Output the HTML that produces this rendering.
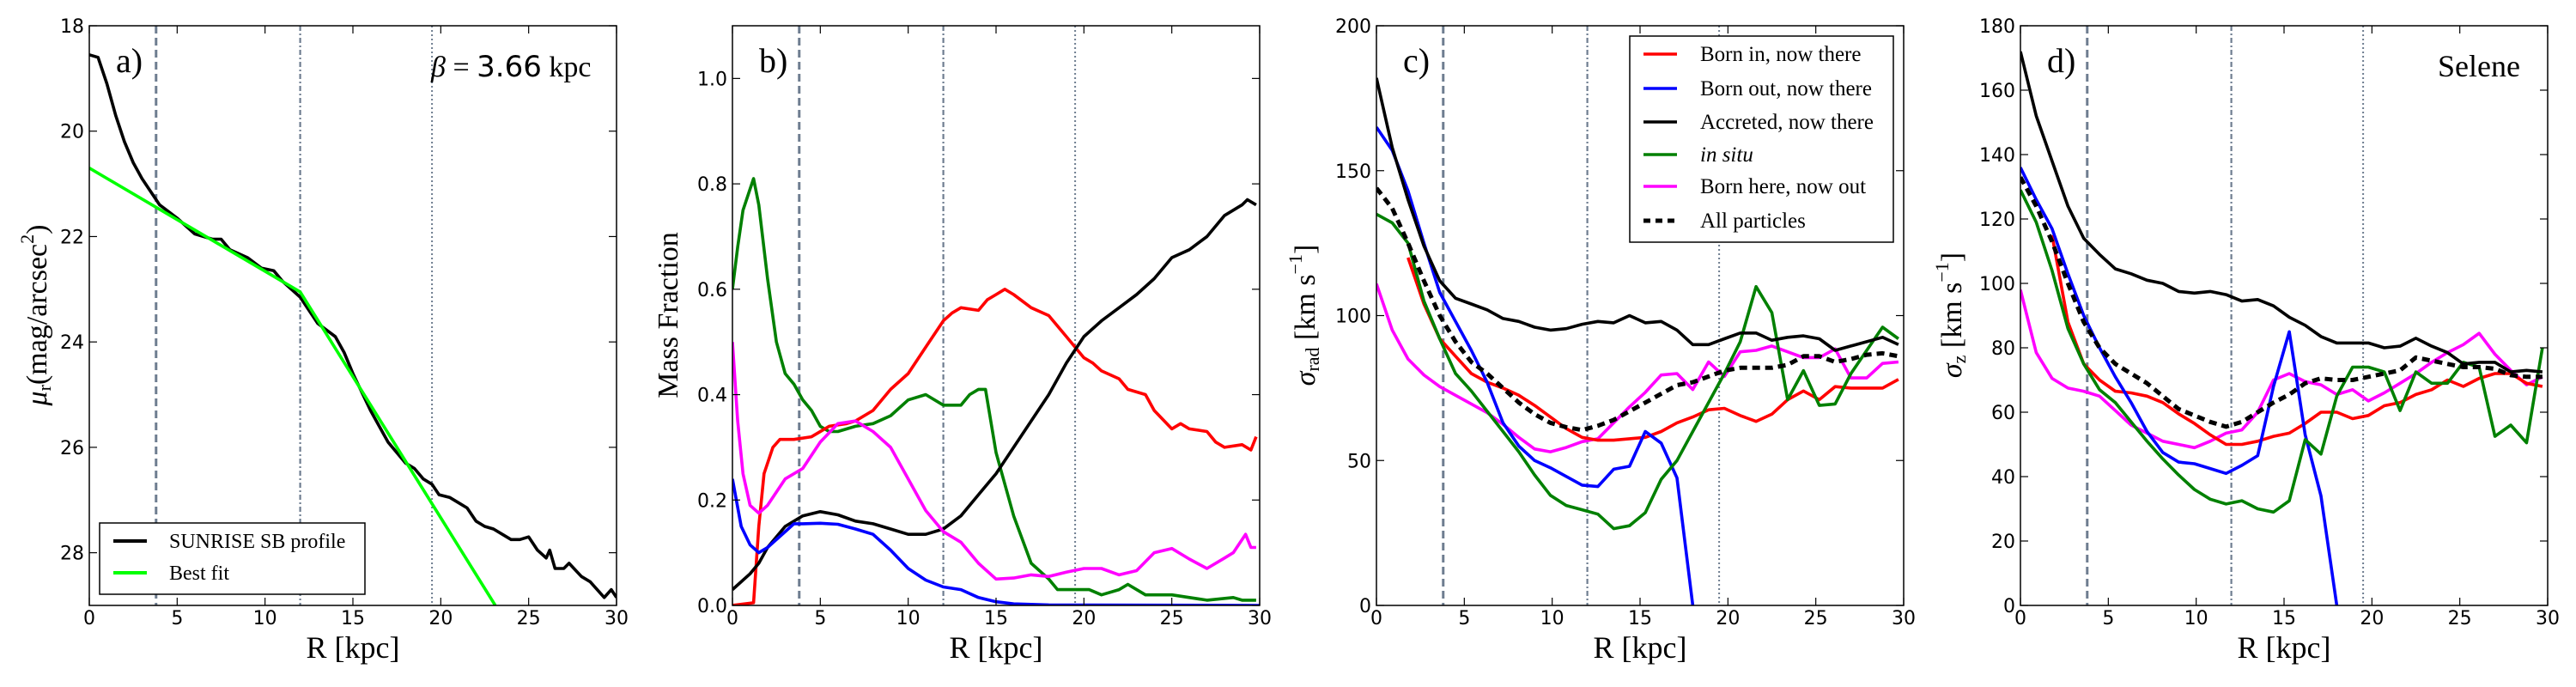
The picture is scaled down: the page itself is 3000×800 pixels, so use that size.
<!DOCTYPE html>
<html><head><meta charset="utf-8">
<style>
html,body{margin:0;padding:0;background:#fff;}
svg{display:block;}
.tk{font-family:"DejaVu Sans","Liberation Sans",sans-serif;font-size:22px;fill:#000;}
.sr{font-family:"Liberation Serif","DejaVu Serif",serif;fill:#000;}
</style></head>
<body>
<svg id="fig" width="3000" height="800" viewBox="0 0 3000 800" xmlns="http://www.w3.org/2000/svg"></svg>
<script>
// ---------- Panel a data ----------
const aBlackR = [0,0.5,1,1.5,2,2.5,3,3.5,4,5,6,7,7.5,8,9,9.8,10.5,11,12,13,14,14.5,15,16,17,18,18.5,19,19.5,19.9,20.5,21,21.5,22,22.5,23,23.5,24,24.5,25,25.5,26,26.2,26.5,27,27.3,28,28.5,29.3,29.7,30];
const aBlackMu = [18.55,18.6,19.1,19.7,20.2,20.6,20.9,21.15,21.4,21.65,21.95,22.05,22.05,22.25,22.4,22.6,22.65,22.85,23.15,23.65,23.9,24.2,24.6,25.3,25.9,26.3,26.4,26.6,26.7,26.9,26.95,27.05,27.15,27.4,27.5,27.55,27.65,27.75,27.75,27.7,27.95,28.1,27.95,28.3,28.3,28.2,28.45,28.55,28.85,28.7,28.85];
const aFitR = [0,12,23.1];
const aFitMu = [20.7,23.05,29.0];
const aYTicks = [18,20,22,24,26,28];
// ---------- Panel b data ----------
const bGreenR = [0,0.3,0.6,1,1.2,1.5,2,2.5,3,3.5,4,4.5,5,5.5,6,7,8,9,10,11,12,13,13.5,14,14.4,15,16,17,18,18.5,19.5,20.3,21,22,22.5,23,23.5,25,27,28.5,29,29.8];
const bGreen = [0.6,0.68,0.75,0.79,0.81,0.76,0.62,0.5,0.44,0.42,0.39,0.37,0.34,0.33,0.33,0.34,0.345,0.36,0.39,0.40,0.38,0.38,0.40,0.41,0.41,0.29,0.17,0.08,0.05,0.03,0.03,0.03,0.02,0.03,0.04,0.03,0.02,0.02,0.01,0.015,0.01,0.01];
const bRedR = [0,1.2,1.5,1.8,2.3,2.7,3.5,4.5,5.5,6.5,7,8,9,10,11,12,12.5,13,14,14.5,15,15.5,16,17,18,19,20,20.5,21,22,22.5,23.5,24,25,25.5,26,27,27.5,28,29,29.5,29.8];
const bRed = [0,0.005,0.15,0.25,0.3,0.315,0.315,0.32,0.34,0.345,0.35,0.37,0.41,0.44,0.49,0.54,0.555,0.565,0.56,0.58,0.59,0.6,0.59,0.565,0.55,0.51,0.47,0.46,0.445,0.43,0.41,0.4,0.37,0.335,0.345,0.335,0.33,0.31,0.3,0.305,0.295,0.32];
const bBlackR = [0,1,1.5,2,3,4,5,6,7,8,9,10,11,12,13,14,15,16,17,18,19,20,21,22,23,24,25,26,27,28,29,29.3,29.8];
const bBlack = [0.03,0.06,0.08,0.11,0.15,0.17,0.178,0.172,0.16,0.155,0.145,0.135,0.135,0.145,0.17,0.21,0.25,0.3,0.35,0.4,0.46,0.51,0.54,0.565,0.59,0.62,0.66,0.675,0.7,0.74,0.76,0.77,0.76];
const bBlueR = [0,0.5,1,1.5,2,3,3.5,4,5,6,7,8,9,10,11,12,13,14,15,16,18,30];
const bBlue = [0.24,0.15,0.115,0.1,0.11,0.14,0.155,0.155,0.156,0.154,0.145,0.135,0.105,0.07,0.048,0.035,0.03,0.015,0.007,0.003,0.001,0];
const bMagR = [0,0.3,0.6,1,1.5,2,3,4,5,6,7,8,9,10,11,12,13,14,15,16,17,18,19,20,21,22,23,24,25,26,27,28,28.5,29.2,29.5,29.8];
const bMag = [0.5,0.35,0.25,0.19,0.175,0.19,0.24,0.26,0.31,0.345,0.35,0.33,0.3,0.24,0.18,0.14,0.12,0.08,0.05,0.052,0.058,0.055,0.063,0.07,0.07,0.058,0.066,0.1,0.108,0.088,0.07,0.09,0.1,0.135,0.11,0.11];
const bYTicks = [0,0.2,0.4,0.6,0.8,1.0];
const bYLabels = ["0.0","0.2","0.4","0.6","0.8","1.0"];
// ---------- Panel c & d shared radius grid ----------
const gridR = [0,0.9,1.8,2.7,3.6,4.5,5.4,6.3,7.2,8.1,9,9.9,10.8,11.7,12.6,13.5,14.4,15.3,16.2,17.1,18,18.9,19.8,20.7,21.6,22.5,23.4,24.3,25.2,26.1,27,27.9,28.8,29.7];
const blueR = [0,0.9,1.8,2.7,3.6,4.5,5.4,6.3,7.2,8.1,9,9.9,10.8,11.7,12.6,13.5,14.4,15.3,16.2,17.1,18];
const redR = gridR.slice(2);
// Panel c
const cBlack = [182,158,140,124,112,106,104,102,99,98,96,95,95.5,97,98,97.5,100,97.5,98,95,90,90,92,94,94,91.5,92.5,93,92,88,89.5,91,92.5,90];
const cBlue = [165,157,143,125,108,98,88,77,63,55,50,47.5,44.5,41.5,41,47,48,60,56,44,0];
const cGreen = [135,132,125,105,92,80,74,67,60,53,45,38,34.5,33,31.5,26.5,27.5,32,43.5,50,60,70,80,91,110,101,71,81,69,69.5,80,88,96,92];
const cRed = [120,104,92,86,80,77,75,72.5,69,65,61,58,57,57,57.5,58,60,63,65,67.5,68,65.5,63.5,66,71,74,71,75.5,75,75,75,78];
const cMag = [111,95,85,79.5,75.5,72.5,69.5,66.5,62.5,58,54,53,54.5,56.5,57.5,63,68.5,73.5,79.5,80,74.5,84,79,87.5,88,89.5,87.5,85.5,85.5,88.5,78.5,78.5,83.5,84];
const cAll = [144,137,125,112,100,91,84,80,75,70,66,63,61.5,60.5,62,64,67,70,73,76,77,79,81,82,82,82,83,86,86,84,85,86.5,87,86];
const cYTicks = [0,50,100,150,200];
// Panel d
const dBlack = [172,152,138,124,114,109,104.5,103,101,100,97.5,97,97.5,96.5,94.5,95,93,89.5,87,83.5,81.5,81.5,81.5,80,80.5,83,80.5,78.5,75,75.5,75.5,72.5,73,72.5];
const dBlue = [136,126,117,103,90,80,71,63,54,47.5,44.5,44,42.5,41,43.5,46.5,68,85,53,34,0];
const dGreen = [129,119,104,86,75,67,63,57,51,45.5,40.5,36,33,31.5,32.5,30,29,32.5,51.5,47,65,74,74,72.5,60.5,72.5,69,69,75.5,74,52.5,56,50.5,80];
const dRed = [115,88,75,70,66.5,66,65,63,59.5,56.5,53,50,50,51,52.5,53.5,56.5,60,60,58,59,62,63,65.5,67,70,68,70.5,72,72,69,68];
const dMag = [98,78.5,70.5,67.5,66.5,65,60.5,56,53.5,51,50,49,51,53.5,54.5,60,70,72,69.5,68.5,65.5,67,63.5,66,69,72,75.5,78.5,81,84.5,78,73,68.5,71];
const dAll = [133,124,113,100,88,80,75,72,69,65,61,59,57,55.5,57,60,63,65.5,69,70.5,70,70,71,72,73,77,76,75,74,74,73.5,71.5,71,71];
const dYTicks = [0,20,40,60,80,100,120,140,160,180];
const xTicks = [0,5,10,15,20,25,30];
const vLinesR = [3.8,12.0,19.5];

const NS = "http://www.w3.org/2000/svg";
const fig = document.getElementById('fig');
function mk(tag, attrs, parent){
  const e = document.createElementNS(NS, tag);
  for (const k in attrs) e.setAttribute(k, attrs[k]);
  (parent||fig).appendChild(e);
  return e;
}
const TOP = 30, BOT = 705, W = 614, LW = 3.6;
function makePanel(name, left, ymin, ymax, invert){
  const g = mk('g', {});
  
  
  const xs = r => left + r / 30 * W;
  const ys = v => invert ? TOP + (v - ymin) / (ymax - ymin) * (BOT - TOP)
                         : BOT - (v - ymin) / (ymax - ymin) * (BOT - TOP);
  return {g, xs, ys, left};
}
function line(p, rs, vs, color, width, dash, name){
  let d = '';
  for (let i = 0; i < rs.length; i++) d += (i ? 'L' : 'M') + p.xs(rs[i]).toFixed(1) + ',' + p.ys(vs[i]).toFixed(1);
  const e = mk('path', {d: d, fill: 'none', stroke: color, 'stroke-width': width, 'stroke-linejoin': 'round', 'clip-path': 'url(#clip-' + p.id + ')'}, p.g);
  if (dash) e.setAttribute('stroke-dasharray', dash);
  
  
}
function axes(p){
  const id = p.id;
  const defs = mk('defs', {}, p.g);
  const cp = mk('clipPath', {id: 'clip-' + id}, defs);
  mk('rect', {x: p.left, y: TOP, width: W, height: BOT - TOP}, cp);
  const vstyles = [['3.0','9,5'],['2.2','6,3,2,3'],['2.0','2,3']];
  const vnames = ['scale-length-line','break-radius-line','outer-radius-line'];
  vLinesR.forEach((r, i) => {
    const e = mk('line', {x1: p.xs(r), x2: p.xs(r), y1: TOP, y2: BOT, stroke: '#6e7d90', 'stroke-width': vstyles[i][0], 'stroke-dasharray': vstyles[i][1]}, p.g);
    
    
  });
}
function frame(p, yTicks, yLabels){
  const f = mk('rect', {x: p.left, y: TOP, width: W, height: BOT - TOP, fill: 'none', stroke: '#000', 'stroke-width': 1.5}, p.g);
  
  
  xTicks.forEach(t => {
    const x = p.xs(t);
    mk('line', {x1: x, x2: x, y1: BOT, y2: BOT - 9, stroke: '#000', 'stroke-width': 1.2}, p.g);
    mk('line', {x1: x, x2: x, y1: TOP, y2: TOP + 9, stroke: '#000', 'stroke-width': 1.2}, p.g);
    const tx = mk('text', {x: x, y: 727, 'text-anchor': 'middle', class: 'tk'}, p.g);
    tx.textContent = t;
    
    
  });
  yTicks.forEach((t, i) => {
    const y = p.ys(t);
    mk('line', {x1: p.left, x2: p.left + 9, y1: y, y2: y, stroke: '#000', 'stroke-width': 1.2}, p.g);
    mk('line', {x1: p.left + W, x2: p.left + W - 9, y1: y, y2: y, stroke: '#000', 'stroke-width': 1.2}, p.g);
    const tx = mk('text', {x: p.left - 6, y: y + 8, 'text-anchor': 'end', class: 'tk'}, p.g);
    tx.textContent = yLabels ? yLabels[i] : t;
    
    
  });
  const xl = mk('text', {x: p.left + W / 2, y: 766, 'text-anchor': 'middle', class: 'sr', 'font-size': 36}, p.g);
  xl.textContent = 'R [kpc]';
  
  
}
function ylabel(p, cx, html){
  const t = mk('text', {x: 0, y: 0, 'text-anchor': 'middle', class: 'sr', 'font-size': 34, transform: 'translate(' + cx + ',367) rotate(-90)', 'dominant-baseline': 'middle'}, p.g);
  t.innerHTML = html;
  
  
}
function ptext(p, x, y, txt, size, name, anchor){
  const t = mk('text', {x: x, y: y, class: 'sr', 'font-size': size, 'text-anchor': anchor || 'start'}, p.g);
  t.innerHTML = txt;
  
  
}

// ---- Panel a ----
const pa = makePanel('panel-a-surface-brightness', 104, 18, 29, true); pa.id = 'a';
axes(pa);
line(pa, aBlackR, aBlackMu, '#000', LW, null, 'sunrise-sb-profile-line');
line(pa, aFitR, aFitMu, '#00ff00', LW, null, 'best-fit-line');
frame(pa, aYTicks, null);
ylabel(pa, 46, '<tspan font-style="italic">μ</tspan><tspan font-size="22" dy="8">r</tspan><tspan dy="-8">(mag/arcsec</tspan><tspan font-size="22" dy="-12">2</tspan><tspan dy="12">)</tspan>');
ptext(pa, 135, 84, 'a)', 40, 'panel-label-a');
ptext(pa, 502, 89, '<tspan font-style="italic">β</tspan> = <tspan font-family="DejaVu Sans, sans-serif">3.66</tspan> kpc', 34, 'beta-annotation');
(function(){
  const lg = mk('g', {}, pa.g);
  
  
  mk('rect', {x: 116, y: 609, width: 309, height: 83, fill: '#fff', stroke: '#000', 'stroke-width': 1.5}, lg);
  const items = [['#000','SUNRISE SB profile',630],['#00ff00','Best fit',667]];
  items.forEach(it => {
    const e = mk('g', {}, lg);
    
    
    mk('line', {x1: 132, x2: 171, y1: it[2], y2: it[2], stroke: it[0], 'stroke-width': 4}, e);
    const t = mk('text', {x: 197, y: it[2] + 8, class: 'sr', 'font-size': 24}, e);
    t.textContent = it[1];
  });
})();

// ---- Panel b ----
const pb = makePanel('panel-b-mass-fraction', 853, 0, 1.1, false); pb.id = 'b';
axes(pb);
line(pb, bGreenR, bGreen, '#008000', LW, null, 'in-situ-line');
line(pb, bRedR, bRed, '#ff0000', LW, null, 'born-in-line');
line(pb, bBlackR, bBlack, '#000', LW, null, 'accreted-line');
line(pb, bBlueR, bBlue, '#0000ff', LW, null, 'born-out-line');
line(pb, bMagR, bMag, '#ff00ff', LW, null, 'born-here-now-out-line');
frame(pb, bYTicks, bYLabels);
ylabel(pb, 781, 'Mass Fraction');
ptext(pb, 884, 84, 'b)', 40, 'panel-label-b');

// ---- Panel c ----
const pc = makePanel('panel-c-radial-dispersion', 1603, 0, 200, false); pc.id = 'c';
axes(pc);
line(pc, gridR, cMag, '#ff00ff', LW, null, 'born-here-now-out-line');
line(pc, redR, cRed, '#ff0000', LW, null, 'born-in-line');
line(pc, blueR, cBlue, '#0000ff', LW, null, 'born-out-line');
line(pc, gridR, cGreen, '#008000', LW, null, 'in-situ-line');
line(pc, gridR, cBlack, '#000', LW, null, 'accreted-line');
line(pc, gridR, cAll, '#000', 5, '9,6', 'all-particles-line');
frame(pc, cYTicks, null);
ylabel(pc, 1523, '<tspan font-style="italic">σ</tspan><tspan font-size="22" dy="8">rad</tspan><tspan dy="-8"> [km s</tspan><tspan font-size="22" dy="-12">−1</tspan><tspan dy="12">]</tspan>');
ptext(pc, 1634, 84, 'c)', 40, 'panel-label-c');
(function(){
  const lg = mk('g', {}, pc.g);
  
  
  mk('rect', {x: 1898, y: 42, width: 307, height: 240, fill: '#fff', stroke: '#000', 'stroke-width': 1.5}, lg);
  const items = [['#ff0000','Born in, now there',63,null],['#0000ff','Born out, now there',103,null],['#000','Accreted, now there',142,null],['#008000','<tspan font-style="italic">in situ</tspan>',180,null],['#ff00ff','Born here, now out',217,null],['#000','All particles',257,'8,6']];
  items.forEach(it => {
    const e = mk('g', {}, lg);
    
    
    const l = mk('line', {x1: 1914, x2: 1953, y1: it[2], y2: it[2], stroke: it[0], 'stroke-width': it[3] ? 5 : 3.5}, e);
    if (it[3]) l.setAttribute('stroke-dasharray', it[3]);
    const t = mk('text', {x: 1980, y: it[2] + 8, class: 'sr', 'font-size': 25}, e);
    t.innerHTML = it[1];
  });
})();

// ---- Panel d ----
const pd = makePanel('panel-d-vertical-dispersion', 2353, 0, 180, false); pd.id = 'd';
axes(pd);
line(pd, gridR, dMag, '#ff00ff', LW, null, 'born-here-now-out-line');
line(pd, redR, dRed, '#ff0000', LW, null, 'born-in-line');
line(pd, blueR, dBlue, '#0000ff', LW, null, 'born-out-line');
line(pd, gridR, dGreen, '#008000', LW, null, 'in-situ-line');
line(pd, gridR, dBlack, '#000', LW, null, 'accreted-line');
line(pd, gridR, dAll, '#000', 5, '9,6', 'all-particles-line');
frame(pd, dYTicks, null);
ylabel(pd, 2276, '<tspan font-style="italic">σ</tspan><tspan font-size="22" dy="8">z</tspan><tspan dy="-8"> [km s</tspan><tspan font-size="22" dy="-12">−1</tspan><tspan dy="12">]</tspan>');
ptext(pd, 2384, 84, 'd)', 40, 'panel-label-d');
ptext(pd, 2935, 89, 'Selene', 36, 'galaxy-name', 'end');
</script>
</body></html>
